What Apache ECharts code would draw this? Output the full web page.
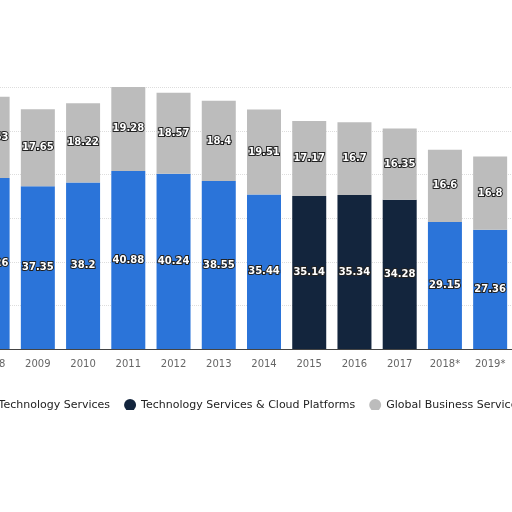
<!DOCTYPE html>
<html><head><meta charset="utf-8">
<script src="https://cdn.jsdelivr.net/npm/echarts@6/dist/echarts.min.js"></script>
<style>html,body{margin:0;background:#fff}#c{width:512px;height:512px}</style>
</head><body><div id="c"></div>
<script>
const years = ['2008', '2009', '2010', '2011', '2012', '2013', '2014', '2015', '2016', '2017', '2018*', '2019*', '2020*'];
const gts = [39.26, 37.35, 38.2, 40.88, 40.24, 38.55, 35.44, '-', '-', '-', 29.15, 27.36, 26];
const cloud = ['-', '-', '-', '-', '-', '-', '-', 35.14, 35.34, 34.28, '-', '-', '-'];
const gbs = [18.63, 17.65, 18.22, 19.28, 18.57, 18.4, 19.51, 17.17, 16.7, 16.35, 16.6, 16.8, 17];

const label = {
    show: true, position: 'inside', color: '#fff', fontSize: 10, fontWeight: 'bold',
    fontFamily: 'DejaVu Sans', textBorderColor: '#222', textBorderWidth: 2,
};
function bar(name, data, color) {
    return {name, type: 'bar', stack: 'a', data, barWidth: 34, itemStyle: {color}, label};
}
const chart = echarts.init(document.getElementById('c'));
chart.setOption({
    animation: false,
    grid: {left: -30, right: -46, top: 44, bottom: 163, containLabel: false, outerBoundsMode: 'none'},
    legend: {
        left: -62, top: 394, width: 900, icon: 'circle', itemWidth: 12, itemHeight: 12, itemGap: 14,
        textStyle: {color: '#222', fontSize: 11, fontFamily: 'DejaVu Sans'},
        data: ['Global Technology Services', 'Technology Services & Cloud Platforms', 'Global Business Services'],
    },
    xAxis: {
        type: 'category', data: years,
        axisLine: {lineStyle: {color: '#444'}}, axisTick: {show: false},
        axisLabel: {color: '#666', fontSize: 10, margin: 10, interval: 0, fontFamily: 'DejaVu Sans'},
    },
    yAxis: {
        type: 'value', min: 0, max: 70, interval: 10,
        axisLabel: {show: false},
        splitLine: {lineStyle: {color: '#ddd', type: 'dotted'}},
    },
    graphic: [
        {type: 'rect', shape: {x: 0, y: 0, width: 512, height: 87}, style: {fill: '#fff'}, z: 100},
        {type: 'rect', shape: {x: 0, y: 410, width: 512, height: 102}, style: {fill: '#fff'}, z: 100},
    ],
    series: [
        bar('Global Technology Services', gts, '#2b74d9'),
        bar('Technology Services & Cloud Platforms', cloud, '#13253d'),
        bar('Global Business Services', gbs, '#bcbcbc'),
    ],
});
</script></body></html>
